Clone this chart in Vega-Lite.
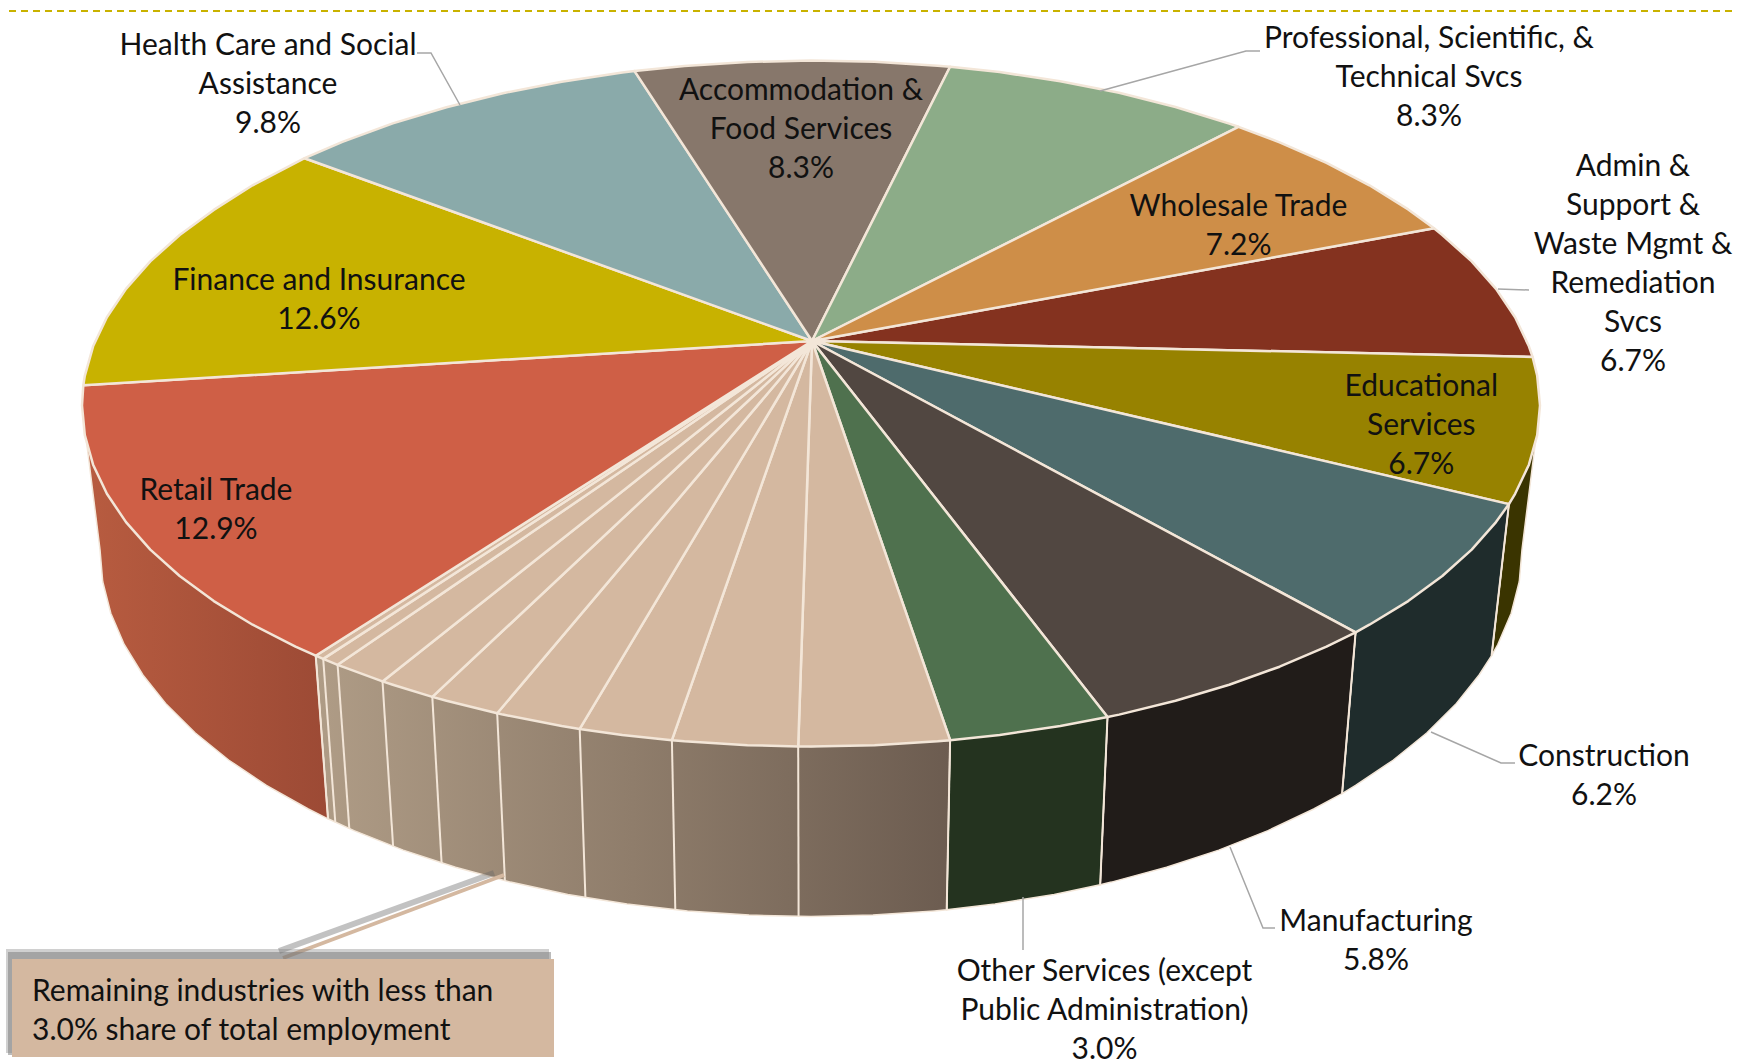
{"$schema":"https://vega.github.io/schema/vega-lite/v6.json","width":1737,"height":1060,"autosize":{"type":"none"},"padding":0,"background":"white","config":{"view":{"stroke":null}},
"datasets":{
"top":[
{"slice":"Admin","seq":0,"u":0,"v":0},{"slice":"Admin","seq":1,"u":622,"v":112.7},{"slice":"Admin","seq":2,"u":630.3,"v":106},{"slice":"Admin","seq":3,"u":659.7,"v":79.6},{"slice":"Admin","seq":4,"u":684,"v":52.1},{"slice":"Admin","seq":5,"u":703.1,"v":23.8},{"slice":"Admin","seq":6,"u":716.9,"v":-5.3},{"slice":"Admin","seq":7,"u":720.6,"v":-15.9},{"slice":"Admin","seq":8,"u":0,"v":0},
{"slice":"Educational","seq":0,"u":0,"v":0},{"slice":"Educational","seq":1,"u":720.6,"v":-15.9},{"slice":"Educational","seq":2,"u":725.2,"v":-34.8},{"slice":"Educational","seq":3,"u":728,"v":-64.5},{"slice":"Educational","seq":4,"u":725.2,"v":-94.2},{"slice":"Educational","seq":5,"u":716.9,"v":-123.7},{"slice":"Educational","seq":6,"u":703.1,"v":-152.8},{"slice":"Educational","seq":7,"u":696.9,"v":-163.1},{"slice":"Educational","seq":8,"u":0,"v":0},
{"slice":"Construction","seq":0,"u":0,"v":0},{"slice":"Construction","seq":1,"u":696.9,"v":-163.1},{"slice":"Construction","seq":2,"u":684,"v":-181.1},{"slice":"Construction","seq":3,"u":659.7,"v":-208.6},{"slice":"Construction","seq":4,"u":630.3,"v":-235},{"slice":"Construction","seq":5,"u":596.2,"v":-260.1},{"slice":"Construction","seq":6,"u":557.4,"v":-283.7},{"slice":"Construction","seq":7,"u":543.6,"v":-291.4},{"slice":"Construction","seq":8,"u":0,"v":0},
{"slice":"Manufacturing","seq":0,"u":0,"v":0},{"slice":"Manufacturing","seq":1,"u":543.6,"v":-291.4},{"slice":"Manufacturing","seq":2,"u":514.5,"v":-305.6},{"slice":"Manufacturing","seq":3,"u":467.6,"v":-325.7},{"slice":"Manufacturing","seq":4,"u":417.2,"v":-343.8},{"slice":"Manufacturing","seq":5,"u":363.5,"v":-359.8},{"slice":"Manufacturing","seq":6,"u":307.1,"v":-373.6},{"slice":"Manufacturing","seq":7,"u":295.5,"v":-376},{"slice":"Manufacturing","seq":8,"u":0,"v":0},
{"slice":"Other","seq":0,"u":0,"v":0},{"slice":"Other","seq":1,"u":295.5,"v":-376},{"slice":"Other","seq":2,"u":248.3,"v":-384.9},{"slice":"Other","seq":3,"u":187.7,"v":-393.9},{"slice":"Other","seq":4,"u":138.1,"v":-399.2},{"slice":"Other","seq":5,"u":0,"v":0},
{"slice":"Rem1","seq":0,"u":0,"v":0},{"slice":"Rem1","seq":1,"u":138.1,"v":-399.2},{"slice":"Rem1","seq":2,"u":125.6,"v":-400.3},{"slice":"Rem1","seq":3,"u":62.6,"v":-404.2},{"slice":"Rem1","seq":4,"u":-1,"v":-405.5},{"slice":"Rem1","seq":5,"u":-13.8,"v":-405.4},{"slice":"Rem1","seq":6,"u":0,"v":0},
{"slice":"Rem2","seq":0,"u":0,"v":0},{"slice":"Rem2","seq":1,"u":-13.8,"v":-405.4},{"slice":"Rem2","seq":2,"u":-64.6,"v":-404.2},{"slice":"Rem2","seq":3,"u":-127.6,"v":-400.3},{"slice":"Rem2","seq":4,"u":-140.1,"v":-399.2},{"slice":"Rem2","seq":5,"u":0,"v":0},
{"slice":"Rem3","seq":0,"u":0,"v":0},{"slice":"Rem3","seq":1,"u":-140.1,"v":-399.2},{"slice":"Rem3","seq":2,"u":-189.7,"v":-393.9},{"slice":"Rem3","seq":3,"u":-232.3,"v":-387.9},{"slice":"Rem3","seq":4,"u":0,"v":0},
{"slice":"Rem4","seq":0,"u":0,"v":0},{"slice":"Rem4","seq":1,"u":-232.3,"v":-387.9},{"slice":"Rem4","seq":2,"u":-250.3,"v":-384.9},{"slice":"Rem4","seq":3,"u":-309.1,"v":-373.6},{"slice":"Rem4","seq":4,"u":-314.8,"v":-372.3},{"slice":"Rem4","seq":5,"u":0,"v":0},
{"slice":"Rem5","seq":0,"u":0,"v":0},{"slice":"Rem5","seq":1,"u":-314.8,"v":-372.3},{"slice":"Rem5","seq":2,"u":-365.5,"v":-359.8},{"slice":"Rem5","seq":3,"u":-379.7,"v":-355.9},{"slice":"Rem5","seq":4,"u":0,"v":0},
{"slice":"Rem6","seq":0,"u":0,"v":0},{"slice":"Rem6","seq":1,"u":-379.7,"v":-355.9},{"slice":"Rem6","seq":2,"u":-419.2,"v":-343.8},{"slice":"Rem6","seq":3,"u":-429.5,"v":-340.4},{"slice":"Rem6","seq":4,"u":0,"v":0},
{"slice":"Rem7","seq":0,"u":0,"v":0},{"slice":"Rem7","seq":1,"u":-429.5,"v":-340.4},{"slice":"Rem7","seq":2,"u":-469.6,"v":-325.7},{"slice":"Rem7","seq":3,"u":-474.4,"v":-323.8},{"slice":"Rem7","seq":4,"u":0,"v":0},
{"slice":"Rem8","seq":0,"u":0,"v":0},{"slice":"Rem8","seq":1,"u":-474.4,"v":-323.8},{"slice":"Rem8","seq":2,"u":-488.8,"v":-317.9},{"slice":"Rem8","seq":3,"u":0,"v":0},
{"slice":"Rem9","seq":0,"u":0,"v":0},{"slice":"Rem9","seq":1,"u":-488.8,"v":-317.9},{"slice":"Rem9","seq":2,"u":-496.3,"v":-314.7},{"slice":"Rem9","seq":3,"u":0,"v":0},
{"slice":"Retail","seq":0,"u":0,"v":0},{"slice":"Retail","seq":1,"u":-496.3,"v":-314.7},{"slice":"Retail","seq":2,"u":-516.5,"v":-305.6},{"slice":"Retail","seq":3,"u":-559.4,"v":-283.7},{"slice":"Retail","seq":4,"u":-598.2,"v":-260.1},{"slice":"Retail","seq":5,"u":-632.3,"v":-235},{"slice":"Retail","seq":6,"u":-661.7,"v":-208.6},{"slice":"Retail","seq":7,"u":-686,"v":-181.1},{"slice":"Retail","seq":8,"u":-705.1,"v":-152.8},{"slice":"Retail","seq":9,"u":-718.9,"v":-123.7},{"slice":"Retail","seq":10,"u":-727.2,"v":-94.2},{"slice":"Retail","seq":11,"u":-730,"v":-64.5},{"slice":"Retail","seq":12,"u":-728.7,"v":-44.3},{"slice":"Retail","seq":13,"u":0,"v":0},
{"slice":"Finance","seq":0,"u":0,"v":0},{"slice":"Finance","seq":1,"u":-728.7,"v":-44.3},{"slice":"Finance","seq":2,"u":-727.2,"v":-34.8},{"slice":"Finance","seq":3,"u":-718.9,"v":-5.3},{"slice":"Finance","seq":4,"u":-705.1,"v":23.8},{"slice":"Finance","seq":5,"u":-686,"v":52.1},{"slice":"Finance","seq":6,"u":-661.7,"v":79.6},{"slice":"Finance","seq":7,"u":-632.3,"v":106},{"slice":"Finance","seq":8,"u":-598.2,"v":131.1},{"slice":"Finance","seq":9,"u":-559.4,"v":155.7},{"slice":"Finance","seq":10,"u":-516.5,"v":178.1},{"slice":"Finance","seq":11,"u":-507.4,"v":182.8},{"slice":"Finance","seq":12,"u":0,"v":0},
{"slice":"Health","seq":0,"u":0,"v":0},{"slice":"Health","seq":1,"u":-507.4,"v":182.8},{"slice":"Health","seq":2,"u":-469.6,"v":199.2},{"slice":"Health","seq":3,"u":-419.2,"v":217.6},{"slice":"Health","seq":4,"u":-365.5,"v":233.8},{"slice":"Health","seq":5,"u":-309.1,"v":247.8},{"slice":"Health","seq":6,"u":-250.3,"v":259.3},{"slice":"Health","seq":7,"u":-189.7,"v":268.4},{"slice":"Health","seq":8,"u":-177.4,"v":269.9},{"slice":"Health","seq":9,"u":0,"v":0},
{"slice":"Accommodation","seq":0,"u":0,"v":0},{"slice":"Accommodation","seq":1,"u":-177.4,"v":269.9},{"slice":"Accommodation","seq":2,"u":-127.6,"v":275},{"slice":"Accommodation","seq":3,"u":-64.6,"v":279},{"slice":"Accommodation","seq":4,"u":-1,"v":280.5},{"slice":"Accommodation","seq":5,"u":62.6,"v":279.2},{"slice":"Accommodation","seq":6,"u":125.6,"v":275.3},{"slice":"Accommodation","seq":7,"u":138.1,"v":274.2},{"slice":"Accommodation","seq":8,"u":0,"v":0},
{"slice":"Professional","seq":0,"u":0,"v":0},{"slice":"Professional","seq":1,"u":138.1,"v":274.2},{"slice":"Professional","seq":2,"u":187.7,"v":268.9},{"slice":"Professional","seq":3,"u":248.3,"v":259.7},{"slice":"Professional","seq":4,"u":307.1,"v":248.2},{"slice":"Professional","seq":5,"u":363.5,"v":234},{"slice":"Professional","seq":6,"u":417.2,"v":217.4},{"slice":"Professional","seq":7,"u":426.5,"v":214.2},{"slice":"Professional","seq":8,"u":0,"v":0},
{"slice":"Wholesale","seq":0,"u":0,"v":0},{"slice":"Wholesale","seq":1,"u":426.5,"v":214.2},{"slice":"Wholesale","seq":2,"u":467.6,"v":198.7},{"slice":"Wholesale","seq":3,"u":514.5,"v":178.1},{"slice":"Wholesale","seq":4,"u":557.4,"v":155.7},{"slice":"Wholesale","seq":5,"u":596.2,"v":131.6},{"slice":"Wholesale","seq":6,"u":622,"v":112.7},{"slice":"Wholesale","seq":7,"u":0,"v":0}
],
"walls":[
{"part":"Educational","seq":0,"u":728,"v":-64.5},{"part":"Educational","seq":1,"u":716.9,"v":-123.7},{"part":"Educational","seq":2,"u":696.9,"v":-163.1},{"part":"Educational","seq":3,"u":679.6,"v":-314.6},{"part":"Educational","seq":4,"u":685.8,"v":-303.5},{"part":"Educational","seq":5,"u":699.2,"v":-272.2},{"part":"Educational","seq":6,"u":707.3,"v":-240.5},{"part":"Educational","seq":7,"u":710,"v":-208.5},{"part":"Educational","seq":8,"u":728,"v":-64.5},
{"part":"Construction","seq":0,"u":696.9,"v":-163.1},{"part":"Construction","seq":1,"u":630.3,"v":-235},{"part":"Construction","seq":2,"u":543.6,"v":-291.4},{"part":"Construction","seq":3,"u":530.1,"v":-452.6},{"part":"Construction","seq":4,"u":543.6,"v":-444.4},{"part":"Construction","seq":5,"u":581.4,"v":-419},{"part":"Construction","seq":6,"u":614.7,"v":-392},{"part":"Construction","seq":7,"u":643.4,"v":-363.6},{"part":"Construction","seq":8,"u":667.1,"v":-334},{"part":"Construction","seq":9,"u":679.6,"v":-314.6},{"part":"Construction","seq":10,"u":696.9,"v":-163.1},
{"part":"Manufacturing","seq":0,"u":543.6,"v":-291.4},{"part":"Manufacturing","seq":1,"u":417.2,"v":-343.8},{"part":"Manufacturing","seq":2,"u":295.5,"v":-376},{"part":"Manufacturing","seq":3,"u":288.2,"v":-543.8},{"part":"Manufacturing","seq":4,"u":299.5,"v":-541.1},{"part":"Manufacturing","seq":5,"u":354.5,"v":-526.3},{"part":"Manufacturing","seq":6,"u":406.8,"v":-509.1},{"part":"Manufacturing","seq":7,"u":456,"v":-489.6},{"part":"Manufacturing","seq":8,"u":501.7,"v":-468},{"part":"Manufacturing","seq":9,"u":530.1,"v":-452.6},{"part":"Manufacturing","seq":10,"u":543.6,"v":-291.4},
{"part":"Other","seq":0,"u":295.5,"v":-376},{"part":"Other","seq":1,"u":138.1,"v":-399.2},{"part":"Other","seq":2,"u":134.7,"v":-568.8},{"part":"Other","seq":3,"u":183,"v":-563},{"part":"Other","seq":4,"u":242.2,"v":-553.4},{"part":"Other","seq":5,"u":288.2,"v":-543.8},{"part":"Other","seq":6,"u":295.5,"v":-376},
{"part":"Remaining","seq":0,"u":138.1,"v":-399.2},{"part":"Remaining","seq":1,"u":-1,"v":-405.5},{"part":"Remaining","seq":2,"u":-250.3,"v":-384.9},{"part":"Remaining","seq":3,"u":-496.3,"v":-314.7},{"part":"Remaining","seq":4,"u":-484,"v":-477.8},{"part":"Remaining","seq":5,"u":-458,"v":-489.6},{"part":"Remaining","seq":6,"u":-408.8,"v":-509.1},{"part":"Remaining","seq":7,"u":-356.5,"v":-526.3},{"part":"Remaining","seq":8,"u":-301.5,"v":-541.1},{"part":"Remaining","seq":9,"u":-244.2,"v":-553.4},{"part":"Remaining","seq":10,"u":-185,"v":-563},{"part":"Remaining","seq":11,"u":-124.5,"v":-569.9},{"part":"Remaining","seq":12,"u":-63,"v":-574.1},{"part":"Remaining","seq":13,"u":-1,"v":-575.5},{"part":"Remaining","seq":14,"u":61,"v":-574.1},{"part":"Remaining","seq":15,"u":122.5,"v":-569.9},{"part":"Remaining","seq":16,"u":134.7,"v":-568.8},{"part":"Remaining","seq":17,"u":138.1,"v":-399.2},
{"part":"Retail","seq":0,"u":-496.3,"v":-314.7},{"part":"Retail","seq":1,"u":-632.3,"v":-235},{"part":"Retail","seq":2,"u":-705.1,"v":-152.8},{"part":"Retail","seq":3,"u":-730,"v":-64.5},{"part":"Retail","seq":4,"u":-712,"v":-208.5},{"part":"Retail","seq":5,"u":-709.3,"v":-240.5},{"part":"Retail","seq":6,"u":-701.2,"v":-272.2},{"part":"Retail","seq":7,"u":-687.8,"v":-303.5},{"part":"Retail","seq":8,"u":-669.1,"v":-334},{"part":"Retail","seq":9,"u":-645.4,"v":-363.6},{"part":"Retail","seq":10,"u":-616.7,"v":-392},{"part":"Retail","seq":11,"u":-583.4,"v":-419},{"part":"Retail","seq":12,"u":-545.6,"v":-444.4},{"part":"Retail","seq":13,"u":-503.7,"v":-468},{"part":"Retail","seq":14,"u":-484,"v":-477.8},{"part":"Retail","seq":15,"u":-496.3,"v":-314.7}
],
"dividers":[
{"u":696.9,"v":-163.1,"u2":679.6,"v2":-314.6},{"u":543.6,"v":-291.4,"u2":530.1,"v2":-452.6},{"u":295.5,"v":-376,"u2":288.2,"v2":-543.8},{"u":138.1,"v":-399.2,"u2":134.7,"v2":-568.8},{"u":-13.8,"v":-405.4,"u2":-13.4,"v2":-575.4},{"u":-140.1,"v":-399.2,"u2":-136.7,"v2":-568.8},{"u":-232.3,"v":-387.9,"u2":-226.6,"v2":-556.5},{"u":-314.8,"v":-372.3,"u2":-307.1,"v2":-539.8},{"u":-379.7,"v":-355.9,"u2":-370.4,"v2":-522.1},{"u":-429.5,"v":-340.4,"u2":-418.9,"v2":-505.4},{"u":-474.4,"v":-323.8,"u2":-462.7,"v2":-487.6},{"u":-488.8,"v":-317.9,"u2":-476.7,"v2":-481.2},{"u":-496.3,"v":-314.7,"u2":-484,"v2":-477.8}
],
"leaders":[
{"leader":"Health","seq":0,"u":-395,"v":288},{"leader":"Health","seq":1,"u":-381,"v":288},{"leader":"Health","seq":2,"u":-352,"v":236},
{"leader":"Professional","seq":0,"u":448,"v":290},{"leader":"Professional","seq":1,"u":434,"v":290},{"leader":"Professional","seq":2,"u":288,"v":250},
{"leader":"Admin","seq":0,"u":717,"v":51},{"leader":"Admin","seq":1,"u":686,"v":52},
{"leader":"Construction","seq":0,"u":703,"v":-422},{"leader":"Construction","seq":1,"u":689,"v":-422},{"leader":"Construction","seq":2,"u":619,"v":-391},
{"leader":"Manufacturing","seq":0,"u":463,"v":-587},{"leader":"Manufacturing","seq":1,"u":451,"v":-587},{"leader":"Manufacturing","seq":2,"u":418,"v":-506},
{"leader":"Other","seq":0,"u":211,"v":-609},{"leader":"Other","seq":1,"u":211,"v":-556}
],
"labels":[
{"label":"Health Care and Social\nAssistance\n9.8%","u":-544,"v":294.6},
{"label":"Accommodation &\nFood Services\n8.3%","u":-11,"v":250.2},
{"label":"Professional, Scientific, &\nTechnical Svcs\n8.3%","u":617,"v":302.3},
{"label":"Wholesale Trade\n7.2%","u":426.5,"v":133.8},
{"label":"Admin &\nSupport &\nWaste Mgmt &\nRemediation\nSvcs\n6.7%","u":821,"v":173.8},
{"label":"Educational\nServices\n6.7%","u":609.3,"v":-45.6},
{"label":"Construction\n6.2%","u":792,"v":-415.5},
{"label":"Manufacturing\n5.8%","u":564,"v":-580.5},
{"label":"Other Services (except\nPublic Administration)\n3.0%","u":292.5,"v":-631},
{"label":"Retail Trade\n12.9%","u":-596,"v":-149.8},
{"label":"Finance and Insurance\n12.6%","u":-493,"v":59.7}
]},
"encoding":{"x":{"field":"u","type":"quantitative","axis":null,"scale":{"domain":[-812,925],"nice":false,"zero":false}},"y":{"field":"v","type":"quantitative","axis":null,"scale":{"domain":[-719,341],"nice":false,"zero":false}}},
"layer":[
{"data":{"values":[{"u":-803,"v":330,"u2":925}]},"mark":{"type":"rule","stroke":"#C9B200","strokeWidth":2,"strokeDash":[7,5]},"encoding":{"x2":{"field":"u2"}}},
{"data":{"name":"walls"},"transform":[{"filter":"datum.part==='Educational'"}],"mark":{"type":"line","fill":"#3A3400","stroke":"#F3E6D8","strokeWidth":1.5},"encoding":{"order":{"field":"seq"}}},
{"data":{"name":"walls"},"transform":[{"filter":"datum.part==='Construction'"}],"mark":{"type":"line","fill":"#1F2C2C","stroke":"#F3E6D8","strokeWidth":1.5},"encoding":{"order":{"field":"seq"}}},
{"data":{"name":"walls"},"transform":[{"filter":"datum.part==='Manufacturing'"}],"mark":{"type":"line","fill":"#211C19","stroke":"#F3E6D8","strokeWidth":1.5},"encoding":{"order":{"field":"seq"}}},
{"data":{"name":"walls"},"transform":[{"filter":"datum.part==='Other'"}],"mark":{"type":"line","fill":"#24331F","stroke":"#F3E6D8","strokeWidth":1.5},"encoding":{"order":{"field":"seq"}}},
{"data":{"name":"walls"},"transform":[{"filter":"datum.part==='Remaining'"}],"mark":{"type":"line","fill":{"gradient":"linear","x1":0,"y1":0,"x2":1,"y2":0,"stops":[{"offset":0,"color":"#AF9C86"},{"offset":0.5,"color":"#8F7D6B"},{"offset":1,"color":"#6C5C50"}]},"stroke":"#F3E6D8","strokeWidth":1.5},"encoding":{"order":{"field":"seq"}}},
{"data":{"name":"walls"},"transform":[{"filter":"datum.part==='Retail'"}],"mark":{"type":"line","fill":{"gradient":"linear","x1":0,"y1":0,"x2":1,"y2":0,"stops":[{"offset":0,"color":"#B85C40"},{"offset":1,"color":"#9C4A35"}]},"stroke":"#F3E6D8","strokeWidth":1.5},"encoding":{"order":{"field":"seq"}}},
{"data":{"name":"dividers"},"mark":{"type":"rule","stroke":"#F3E6D8","strokeWidth":2},"encoding":{"x2":{"field":"u2"},"y2":{"field":"v2"}}},
{"data":{"name":"top"},"mark":{"type":"line","stroke":"#F3E6D8","strokeWidth":2.5,"strokeJoin":"round"},"encoding":{"order":{"field":"seq"},"fill":{"field":"slice","type":"nominal","legend":null,"scale":{"domain":["Admin","Educational","Construction","Manufacturing","Other","Rem1","Rem2","Rem3","Rem4","Rem5","Rem6","Rem7","Rem8","Rem9","Retail","Finance","Health","Accommodation","Professional","Wholesale"],"range":["#84321F","#978200","#4E6B6C","#514741","#4F714E","#D4B8A0","#D4B8A0","#D4B8A0","#D4B8A0","#D4B8A0","#D4B8A0","#D4B8A0","#D4B8A0","#D4B8A0","#CF5F46","#C8B200","#8AAAAA","#87776B","#8CAC88","#CE8E48"]}}}},
{"data":{"name":"leaders"},"mark":{"type":"line","stroke":"#A6A6A6","strokeWidth":1.5},"encoding":{"order":{"field":"seq"},"detail":{"field":"leader"}}},
{"data":{"values":[{"u":-533,"v":-610,"u2":-318,"v2":-532}]},"mark":{"type":"rule","stroke":"#666666","strokeWidth":6,"opacity":0.4},"encoding":{"x2":{"field":"u2"},"y2":{"field":"v2"}}},
{"data":{"values":[{"u":-529,"v":-617,"u2":-308,"v2":-534}]},"mark":{"type":"rule","stroke":"#D4B8A0","strokeWidth":4},"encoding":{"x2":{"field":"u2"},"y2":{"field":"v2"}}},
{"data":{"values":[{"u":-806,"v":-608,"u2":-263,"v2":-712}]},"mark":{"type":"rect","fill":"#777777","opacity":0.35},"encoding":{"x2":{"field":"u2"},"y2":{"field":"v2"}}},
{"data":{"values":[{"u":-804,"v":-611,"u2":-261,"v2":-714}]},"mark":{"type":"rect","fill":"#777777","opacity":0.5},"encoding":{"x2":{"field":"u2"},"y2":{"field":"v2"}}},
{"data":{"values":[{"u":-800,"v":-618,"u2":-258,"v2":-716}]},"mark":{"type":"rect","fill":"#D4B8A0"},"encoding":{"x2":{"field":"u2"},"y2":{"field":"v2"}}},
{"data":{"values":[{"label":"Remaining industries with less than\n3.0% share of total employment","u":-780,"v":-651.4}]},"mark":{"type":"text","align":"left","baseline":"middle","font":"Lato","fontSize":30,"lineHeight":39,"lineBreak":"\n","fill":"#111111"},"encoding":{"text":{"field":"label"}}},
{"data":{"name":"labels"},"mark":{"type":"text","align":"center","baseline":"middle","font":"Lato","fontSize":30,"lineHeight":39,"lineBreak":"\n","fill":"#111111"},"encoding":{"text":{"field":"label"}}}
]}
